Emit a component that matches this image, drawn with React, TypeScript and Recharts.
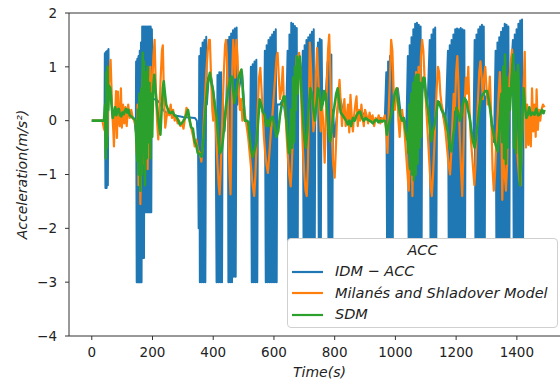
import React from 'react';
import { LineChart, Line, XAxis, YAxis, Legend, ReferenceLine } from 'recharts';

type Pt = [number, number];

const seriesNames = ['IDM \u2212 ACC', 'Milan\u00e9s and Shladover Model', 'SDM'];
const seriesColors = ['#1f77b4', '#ff7f0e', '#2ca02c'];
const xTicks = [0, 200, 400, 600, 800, 1000, 1200, 1400];
const yTicks = [-4, -3, -2, -1, 0, 1, 2];

const idmAcc: Pt[] = [
  [0,0],[42,0],[43,1.25],[45,-1.25],[47,1.28],[49,-1.25],[51,1.3],[53,-1.2],[55,1.33],[56,0.5],
  [60,0.6],[70,0.1],[80,0.15],[90,0.15],[100,0.12],[110,0.15],[120,0.15],[130,0.08],[140,0.03],[145,-0.2],
  [146,1.1],[148,-3],[150,1.15],[152,-3],[154,1.2],[156,-3],[158,1.3],[160,-3],[162,1.45],[164,-3],
  [166,1.75],[168,-2.55],[170,1.75],[172,-2.55],[174,1.75],[176,-1.7],[178,1.75],[180,-1.7],[182,1.75],[184,-1.7],
  [186,1.75],[188,-1.7],[190,1.75],[192,-1.7],[194,1.75],[196,-1.7],[198,1.7],[200,0.4],
  [205,0.4],[215,0.38],[225,0.32],[235,0.2],[245,0.15],[260,0.12],[280,0.09],[300,0.07],[320,0.06],[340,0.05],[346,0.0],[350,-0.4],
  [352,-2.0],[354,1.2],[356,-3],[359,1.35],[362,-3],[365,1.45],[368,-3],[371,1.5],[374,-3],[377,1.56],[379,0.3],
  [385,0.8],[392,0.85],[400,0.55],[408,0.1],
  [411,-3],[414,0.85],[417,-3],[420,0.9],[423,-3],[426,0.9],[429,-3],[431,0.5],
  [437,-0.2],[443,0.3],
  [448,1.5],[450,-3],[453,1.56],[456,-3],[459,1.62],[462,-3],[465,1.68],[468,-2.9],[471,1.71],[474,-2.9],[477,1.73],[479,0.3],
  [485,0.6],[495,0.9],[505,0.0],[515,-0.02],[521,-0.4],
  [524,1.0],[527,-3],[530,1.05],[533,-3],[536,1.1],[539,-3],[542,1.13],[545,-3],[547,0.2],
  [553,0.4],[563,0.17],[568,0.0],
  [570,1.3],[573,-3],[576,1.4],[579,-3],[582,1.5],[585,-3],[588,1.55],[591,-3],[594,1.6],[597,-3],[600,1.65],[603,-3],[606,1.7],[609,-3],[611,0.3],
  [620,0.3],[630,0.4],[640,0.0],
  [645,1.3],[648,-3],[651,1.6],[654,-3],[657,1.82],[660,-3],[663,1.8],[666,-3],[669,1.76],[672,-3],[675,1.72],[678,-3],[680,0.9],
  [686,1.1],[692,0.5],
  [695,1.3],[698,-3],[701,1.4],[704,-3],[707,1.5],[710,-3],[713,1.55],[716,-3],[719,1.6],[722,-3],[725,1.65],[728,-3],[731,1.7],[734,-3],[736,0.2],
  [740,0.8],
  [745,1.45],[748,-3],[751,1.52],[754,-3],[757,1.5],[759,0.3],
  [765,0.4],[772,0.6],
  [777,1.1],[780,-3],[783,1.2],[786,-3],[789,1.23],[792,-3],[794,0.2],
  [800,-0.3],[815,0.5],[830,0.1],[850,0.0],[870,0.05],[890,0.15],[910,0.05],[930,0.0],[950,0.05],[965,0.0],
  [970,0.9],[973,-3],[976,1.1],[979,-3],[982,1.2],[985,-3],[988,1.32],[991,-3],[993,0.3],
  [1000,0.5],[1008,0.6],[1018,0.1],[1028,0.05],[1036,-0.2],
  [1041,1.2],[1044,-3],[1047,1.4],[1050,-3],[1053,1.55],[1056,-3],[1059,1.7],[1062,-3],[1065,1.8],[1068,-3],[1071,1.82],[1074,-3],[1077,1.78],[1080,-3],[1083,1.75],[1086,-3],[1088,0.5],
  [1095,0.8],[1105,0.1],
  [1113,1.5],[1116,-3],[1119,1.6],[1122,-3],[1125,1.7],[1128,-3],[1131,1.73],[1134,-3],[1137,0.3],
  [1145,0.35],[1155,0.15],[1165,-0.1],
  [1173,1.3],[1176,-3],[1179,1.4],[1182,-3],[1185,1.5],[1188,-3],[1191,1.6],[1194,-3],[1197,1.7],[1200,-3],[1203,1.71],[1206,-3],[1209,1.7],[1212,-3],[1215,1.72],[1218,-3],[1221,1.7],[1224,-3],[1227,1.68],[1229,-3],[1231,0.4],
  [1240,0.3],[1250,-0.2],[1257,-0.4],
  [1261,1.5],[1264,-3],[1267,1.6],[1270,-3],[1273,1.7],[1276,-3],[1279,1.75],[1282,-3],[1285,1.78],[1288,-3],[1291,1.75],[1294,-3],[1296,0.4],
  [1305,0.55],[1315,0.1],[1325,-0.4],
  [1330,1.3],[1333,-3],[1336,1.45],[1339,-3],[1342,1.55],[1345,-3],[1348,1.65],[1351,-3],[1354,1.72],[1357,-3],[1360,1.8],[1363,-3],[1366,1.78],[1369,-3],[1372,1.75],[1375,-3],[1377,0.5],
  [1382,1.0],
  [1387,1.5],[1390,-3],[1393,1.6],[1396,-3],[1399,1.7],[1402,-3],[1405,1.8],[1408,-3],[1411,1.86],[1414,-3],[1417,1.88],[1420,-3],[1422,0.3],
  [1430,0.2],[1445,0.1],[1460,0.15],[1475,0.1],[1485,0.15]
];

const milanes: Pt[] = [
  [0,0],[35,0],[40,-0.15],[44,-0.2],[48,0.3],[51,-0.3],[55,0.5],[58,0.9],[62,1.13],[65,0.6],[68,0.1],[71,-0.2],[73,-0.48],[76,0.0],
  [80,0.55],[83,-0.32],[86,0.54],[89,0.0],[92,-0.1],[96,0.6],[99,-0.13],[103,0.3],[107,-0.05],[111,0.25],[115,-0.1],[120,0.3],
  [125,0.05],[130,0.2],[135,0.05],[140,0.0],[145,-0.1],
  [148,-0.6],[151,0.3],[154,-1.2],[157,0.2],[160,-1.55],[163,-0.6],[166,0.5],[169,1.0],[172,-0.8],[175,0.9],[178,-0.6],[181,0.5],
  [184,-0.9],[187,0.8],[190,-0.4],[193,1.0],[196,-0.2],[199,0.6],[203,1.2],[207,1.5],[211,0.6],[215,0.0],[219,-0.35],[223,0.2],
  [227,0.8],[231,1.3],[234,1.4],[238,0.4],[242,-0.13],[246,0.05],[250,0.2],[255,0.1],[260,0.3],[264,0.05],[268,0.2],[273,0.0],
  [278,0.05],[283,-0.05],[288,0.0],[292,-0.1],[297,-0.05],[302,-0.15],[307,0.05],[312,0.24],[317,0.15],[322,0.0],[329,-0.17],
  [334,-0.3],[339,-0.48],[344,-0.35],[350,-0.55],[356,-0.6],[361,-0.76],[365,-0.5],[369,0.0],[373,0.4],[377,0.9],[382,1.3],
  [386,1.5],[389,1.5],[393,0.8],[397,0.2],[400,0.0],[403,0.4],[406,0.2],[410,-0.3],[414,-0.8],[418,-1.2],[421,-1.37],[424,-1.0],
  [427,-0.5],[431,0.2],[435,0.9],[439,1.4],[442,1.5],[445,1.2],[448,0.4],[451,-0.5],[454,-1.0],[457,-1.37],[460,-0.3],[463,1.0],
  [466,1.5],[469,1.2],[472,0.8],[476,1.5],[480,1.2],[484,0.5],[488,0.2],[492,0.4],[496,0.0],[500,0.2],[505,0.1],[510,-0.1],
  [515,-0.3],[520,-0.6],[525,-0.9],[530,-1.2],[535,-1.4],[539,-1.0],[543,-0.4],[547,0.3],[551,0.8],[555,0.98],[559,0.6],[563,0.1],
  [567,-0.3],[571,-0.6],[575,-0.8],[580,-0.97],[585,-0.6],[590,-0.2],[595,0.1],[600,0.5],[605,0.9],[609,1.2],[612,1.26],[616,0.8],
  [620,0.4],[625,0.6],[629,1.0],[633,0.3],[637,0.26],[641,-0.2],[645,-0.6],[650,-1.0],[655,-1.22],[659,-0.8],[663,-0.2],[667,0.5],
  [671,0.9],[675,1.2],[679,1.0],[683,1.26],[687,0.9],[691,0.2],[695,-0.5],[700,-1.0],[704,-1.3],[708,-1.4],[712,-0.8],[715,0.2],
  [718,1.45],[722,1.0],[726,0.4],[730,-0.2],[734,0.0],[738,0.8],[742,1.35],[746,0.8],[750,0.2],[754,-0.2],[758,0.3],[762,0.0],
  [767,-0.78],[771,0.0],[775,0.8],[778,1.3],[782,1.6],[786,0.8],[790,-0.2],[795,-0.8],[800,-1.06],[804,-0.5],[808,0.1],[812,0.5],
  [816,0.76],[820,0.3],[824,-0.1],[828,0.2],[832,0.4],[836,-0.1],[840,0.1],[844,0.3],[848,-0.22],[852,0.48],[856,0.1],[860,-0.2],
  [864,0.1],[868,0.3],[872,0.45],[876,-0.1],[880,0.2],[884,0.0],[888,0.3],[892,0.05],[896,-0.1],[900,0.2],[905,0.1],[910,-0.05],
  [915,0.15],[920,0.0],[925,0.1],[930,-0.1],[935,0.05],[940,0.0],[945,0.1],[950,-0.05],[955,0.05],[960,0.0],[965,0.1],[970,-0.2],
  [974,-0.6],[978,0.2],[982,0.8],[986,1.5],[990,1.3],[994,0.6],[998,0.2],[1002,0.5],[1006,0.6],[1010,0.0],[1014,-0.3],[1018,0.1],
  [1022,0.2],[1026,0.0],[1030,-0.2],[1035,-0.6],[1040,-1.0],[1044,-1.3],[1048,-0.6],[1052,0.2],[1056,-1.4],[1060,0.6],[1064,-0.8],
  [1068,0.9],[1072,-0.5],[1076,1.0],[1080,0.3],[1084,1.2],[1088,1.5],[1092,1.3],[1096,0.8],[1100,0.4],[1104,0.0],[1108,-0.4],
  [1112,-0.8],[1116,-1.2],[1120,-1.4],[1124,-1.0],[1128,-0.5],[1132,0.1],[1136,0.6],[1140,1.0],[1144,0.9],[1148,0.5],[1152,0.3],
  [1156,0.2],[1160,0.0],[1165,-0.2],[1170,-0.5],[1175,-0.8],[1180,-1.0],[1184,-0.6],[1188,0.0],[1192,0.5],[1196,0.2],[1200,0.9],
  [1204,1.2],[1208,0.6],[1212,-0.3],[1216,-0.9],[1220,-1.4],[1224,-0.6],[1228,0.3],[1232,0.8],[1236,0.5],[1240,1.0],[1244,0.2],
  [1248,-0.3],[1252,-0.6],[1256,-0.9],[1260,-1.2],[1264,-0.8],[1268,-0.2],[1272,0.4],[1276,0.9],[1280,1.1],[1284,0.8],[1288,0.4],
  [1292,0.8],[1296,1.0],[1300,0.6],[1304,0.3],[1308,0.5],[1311,0.82],[1316,0.0],[1320,-0.9],[1324,-1.3],[1328,-1.0],[1332,-0.4],
  [1336,0.0],[1340,0.5],[1344,0.9],[1348,0.3],[1352,-1.47],[1356,-0.4],[1360,-1.0],[1364,-1.3],[1368,-0.8],[1372,0.2],[1376,0.8],
  [1380,1.1],[1384,1.32],[1388,1.0],[1392,0.6],[1396,0.0],[1400,-0.4],[1404,-0.8],[1408,-1.1],[1412,-1.2],[1416,-0.5],[1420,0.2],
  [1426,1.28],[1430,-0.5],[1434,0.3],[1438,-0.45],[1442,0.2],[1446,-0.48],[1450,0.6],[1454,-0.2],[1458,0.3],[1462,-0.3],[1465,0.58],
  [1469,-0.17],[1473,0.2],[1477,0.0],[1481,0.2],[1486,0.3],[1491,0.25]
];

const sdm: Pt[] = [
  [0,0],[40,0],[44,0.3],[46,-0.7],[48,0.9],[50,-0.5],[52,1.0],[54,0.2],[57,0.65],[61,0.6],[65,0.3],[69,0.05],[73,0.12],[77,0.25],
  [81,0.1],[85,0.2],[89,0.22],[93,0.1],[97,0.08],[101,0.15],[105,0.12],[109,0.18],[113,0.22],[117,0.15],[121,0.2],[125,0.1],
  [130,0.08],[135,0.05],[140,0.03],[144,0.0],
  [147,-0.4],[150,-0.75],[152,0.2],[154,-1.0],[157,0.5],[160,-1.3],[163,0.6],[165,-1.0],[168,1.26],[170,-0.6],[172,1.1],[175,-1.2],
  [178,0.9],[181,-0.7],[184,1.0],[187,-0.4],[190,0.7],[193,-0.7],[196,0.5],[199,-0.3],[202,0.6],[206,0.85],[210,0.55],[214,0.3],
  [218,0.1],[222,-0.1],[226,-0.26],[230,0.2],[234,0.6],[237,0.73],[241,0.5],[245,0.3],[250,0.22],[255,0.15],[260,0.14],[266,0.17],
  [272,0.1],[278,0.08],[284,0.02],[290,-0.07],[296,-0.05],[302,0.0],[307,0.05],[312,0.12],[317,0.2],[322,0.02],[327,-0.12],
  [333,-0.15],[339,-0.39],[344,-0.45],[349,-0.6],[355,-0.62],[362,-0.67],[367,-0.4],[372,0.0],[377,0.4],[382,0.7],[389,0.89],
  [394,0.7],[399,0.58],[405,0.3],[411,0.07],[416,-0.3],[422,-0.6],[428,-0.55],[433,-0.3],[438,0.0],[443,0.3],[448,0.52],[453,0.7],
  [458,0.8],[461,0.82],[465,0.6],[470,0.33],[475,0.5],[480,0.7],[486,0.85],[493,0.95],[498,0.5],[504,0.0],[510,0.0],[515,-0.02],
  [520,-0.3],[525,-0.55],[530,-0.67],[536,-0.55],[543,-0.4],[548,0.0],[553,0.39],[558,0.3],[563,0.17],[570,0.1],[575,-0.1],
  [580,0.0],[585,-0.1],[590,0.05],[596,0.07],[602,-0.1],[608,-0.3],[614,-0.2],[620,0.1],[626,0.3],[632,0.45],[636,0.45],[640,0.1],
  [645,-0.3],[649,-0.6],[652,-0.6],[656,0.2],[660,-0.5],[663,0.8],[666,-0.4],[669,1.0],[672,0.2],[675,1.19],[678,0.5],[681,1.0],
  [685,1.19],[690,0.6],[695,0.1],[700,-0.3],[705,-0.5],[710,-0.2],[715,0.3],[720,0.6],[725,0.5],[730,0.2],[735,0.0],[740,0.3],
  [745,0.6],[750,0.55],[755,0.2],[760,0.3],[765,0.55],[770,0.5],[775,0.2],[780,-0.2],[785,-0.38],[790,-0.2],[795,0.1],[800,0.3],
  [805,0.5],[810,0.6],[815,0.35],[820,0.15],[826,0.1],[832,0.05],[838,0.0],[843,-0.07],[848,0.0],[854,-0.1],[860,0.05],[866,0.0],
  [872,0.1],[878,0.15],[884,0.17],[890,0.05],[896,0.0],[902,0.05],[908,0.02],[914,0.0],[920,-0.02],[926,-0.05],[932,0.0],
  [938,0.02],[944,-0.03],[950,0.0],[956,-0.02],[962,0.0],[967,-0.01],[972,-0.26],[977,-0.1],[983,0.05],[990,0.2],[997,0.48],
  [1004,0.6],[1010,0.3],[1016,0.1],[1022,0.0],[1028,0.05],[1034,-0.2],[1040,-0.38],
  [1043,-0.6],[1046,0.3],[1049,-0.9],[1052,0.5],[1055,-1.0],[1058,0.7],[1061,-1.1],[1064,0.8],[1067,-1.0],[1070,0.85],[1073,-0.8],
  [1076,0.85],[1079,-0.5],[1082,0.7],[1085,-0.3],[1088,0.6],[1092,0.8],[1096,0.79],[1102,0.4],[1108,0.2],[1113,-0.1],[1118,-0.38],
  [1123,-0.2],[1128,-0.1],[1134,0.1],[1140,0.36],[1146,0.3],[1152,0.2],[1158,0.15],[1164,0.05],[1169,-0.1],[1174,-0.26],
  [1180,-0.5],[1185,-0.57],[1190,-0.3],[1196,-0.05],[1201,0.24],[1207,0.15],[1212,0.0],[1218,0.1],[1222,0.3],[1227,0.42],
  [1233,0.36],[1239,0.2],[1245,0.05],[1250,-0.2],[1256,-0.4],[1261,-0.5],[1266,-0.3],[1272,0.0],[1278,0.3],[1284,0.45],[1290,0.5],
  [1296,0.55],[1302,0.55],[1307,0.4],[1313,0.17],[1318,-0.1],[1324,-0.26],[1330,-0.45],[1337,-0.57],[1341,-0.3],[1345,0.1],
  [1349,0.5],[1352,-0.4],[1355,1.0],[1358,-0.7],[1361,1.23],[1364,-0.8],[1367,0.8],[1370,-0.5],[1373,0.6],[1377,0.2],[1381,0.6],
  [1385,1.0],[1388,1.23],[1391,-0.5],[1394,0.9],[1397,-0.6],[1400,0.6],[1404,1.04],[1407,0.5],[1410,-1.2],[1414,-0.7],[1418,0.0],
  [1422,0.6],[1426,0.3],[1431,0.05],[1436,0.11],[1441,0.25],[1446,0.1],[1452,0.15],[1458,0.11],[1464,0.22],[1470,0.1],
  [1476,0.12],[1482,0.2],[1488,0.14],[1491,0.2]
];

const toRows = (pts: Pt[]) => pts.map(([t, a]) => ({ t, a }));
const seriesData = [toRows(idmAcc), toRows(milanes), toRows(sdm)];
const seriesWidths = [2, 2.2, 2.6];

const fmt = (v: number) => (v < 0 ? '\u2212' + Math.abs(v) : String(v));
const FONT = '"DejaVu Sans", sans-serif';

const LegendBox = () => (
  <div
    style={{
      width: 271,
      height: 90,
      boxSizing: 'border-box',
      border: '1px solid #d0d0d0',
      borderRadius: 4,
      background: '#ffffff',
      fontFamily: FONT,
      fontStyle: 'italic',
      fontSize: 14.5,
      color: '#222',
      paddingTop: 1,
    }}
  >
    <div style={{ textAlign: 'center', height: 21, lineHeight: '21px' }}>ACC</div>
    {seriesNames.map((n, i) => (
      <div key={n} style={{ display: 'flex', alignItems: 'center', height: 21.5, lineHeight: '21.5px' }}>
        <svg width={31} height={4} style={{ marginLeft: 4, marginRight: 12 }}>
          <line x1={0} y1={2} x2={31} y2={2} stroke={seriesColors[i]} strokeWidth={2.2} />
        </svg>
        <span style={{ whiteSpace: 'nowrap' }}>{n}</span>
      </div>
    ))}
  </div>
);

export default function App() {
  return (
    <div style={{ position: 'fixed', left: 0, top: 0, width: 560, height: 382, overflow: 'hidden', background: '#fff' }}>
      <LineChart width={600} height={382} margin={{ top: 13, right: 30, bottom: 0, left: 0 }}>
        <XAxis
          dataKey="t"
          type="number"
          domain={[-75, 1575]}
          allowDataOverflow
          ticks={xTicks}
          tickFormatter={fmt}
          height={46}
          tickSize={4}
          tickMargin={7}
          stroke="#333"
          tick={{ fill: '#222', fontSize: 13.5, fontFamily: FONT }}
          label={{ value: 'Time(s)', position: 'insideBottom', offset: 5, fill: '#222', fontSize: 14, fontStyle: 'italic', fontFamily: FONT }}
        />
        <YAxis
          type="number"
          domain={[-4, 2]}
          allowDataOverflow
          ticks={yTicks}
          tickFormatter={fmt}
          width={69}
          tickSize={4}
          tickMargin={8}
          stroke="#333"
          tick={{ fill: '#222', fontSize: 13.5, fontFamily: FONT }}
          label={{
            value: 'Acceleration(m/s\u00b2)',
            angle: -90,
            position: 'insideLeft',
            offset: 22,
            fill: '#222',
            fontSize: 14,
            fontStyle: 'italic',
            fontFamily: FONT,
            style: { textAnchor: 'middle' },
          }}
        />
        <ReferenceLine y={2} stroke="#333" strokeWidth={1} />
        {seriesNames.map((n, i) => (
          <Line
            key={n}
            data={seriesData[i]}
            dataKey="a"
            name={n}
            type="linear"
            stroke={seriesColors[i]}
            strokeWidth={seriesWidths[i]}
            strokeLinejoin="round"
            dot={false}
            activeDot={false}
            isAnimationActive={false}
          />
        ))}
        <Legend
          layout="vertical"
          align="center"
          verticalAlign="middle"
          content={() => <LegendBox />}
          wrapperStyle={{ left: 287, top: 238, width: 271, height: 90 }}
        />
      </LineChart>
    </div>
  );
}
